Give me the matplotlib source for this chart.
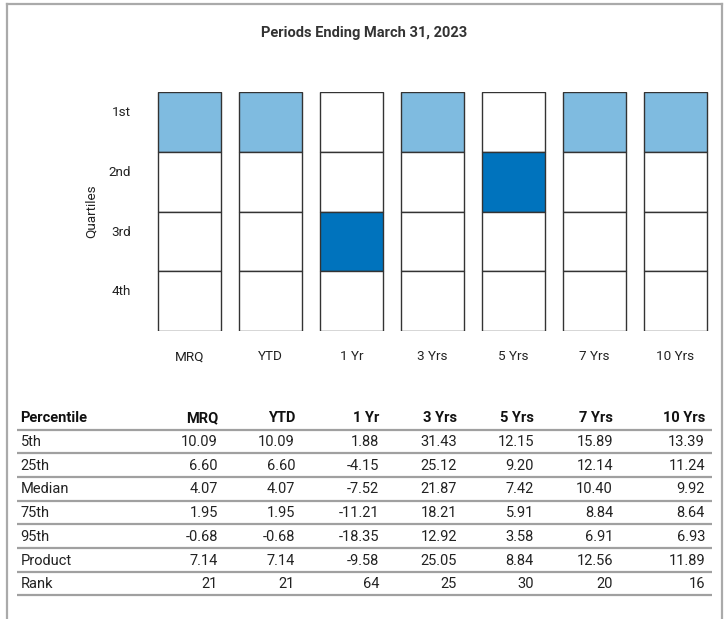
import matplotlib
matplotlib.use("Agg")
import matplotlib.pyplot as plt
from matplotlib.lines import Line2D

plt.rcParams['font.family'] = ['Roboto', 'DejaVu Sans']

# ---- data ----
title = "Periods Ending March 31, 2023"
periods = ["MRQ", "YTD", "1 Yr", "3 Yrs", "5 Yrs", "7 Yrs", "10 Yrs"]
quartile_labels = ["1st", "2nd", "3rd", "4th"]
product_quartile = [1, 1, 3, 1, 2, 1, 1]
row_labels = ["5th", "25th", "Median", "75th", "95th", "Product", "Rank"]
p5 = [10.09, 10.09, 1.88, 31.43, 12.15, 15.89, 13.39]
p25 = [6.60, 6.60, -4.15, 25.12, 9.20, 12.14, 11.24]
median = [4.07, 4.07, -7.52, 21.87, 7.42, 10.40, 9.92]
p75 = [1.95, 1.95, -11.21, 18.21, 5.91, 8.84, 8.64]
p95 = [-0.68, -0.68, -18.35, 12.92, 3.58, 6.91, 6.93]
product = [7.14, 7.14, -9.58, 25.05, 8.84, 12.56, 11.89]
rank = [21, 21, 64, 25, 30, 20, 16]

LIGHT = "#7FBBE0"
DARK = "#0073BD"
EDGE = "#333333"
TXT = "#222222"

W, H = 726, 619
fig = plt.figure(figsize=(W / 100, H / 100), dpi=100)

# outer frame (top, left, right)
frame_c = "#AAAAAA"
fig.add_artist(Line2D([7 / W, 7 / W], [0, 1 - 3.5 / H], transform=fig.transFigure, color=frame_c, lw=1.6))
fig.add_artist(Line2D([722 / W, 722 / W], [0, 1 - 3.5 / H], transform=fig.transFigure, color=frame_c, lw=1.6))
fig.add_artist(Line2D([7 / W, 722 / W], [1 - 3.5 / H, 1 - 3.5 / H], transform=fig.transFigure, color=frame_c, lw=1.6))

fig.text(364 / W, 1 - 32.5 / H, title, ha="center", va="center", fontsize=10.5, fontweight="bold", color="#333333")

# ---- quartile grid ----
ax = fig.add_axes([149 / W, 1 - 331 / H, 567 / W, 239 / H])
ax.set_xlim(-0.5, len(periods) - 0.5)
ax.set_ylim(4.5, 0.5)
bw = 63 / 81
for i, q_prod in enumerate(product_quartile):
    for q in range(1, 5):
        if q == q_prod:
            fc = LIGHT if q == 1 else DARK
        else:
            fc = "white"
        ax.bar(i, 1, bottom=q - 0.5, width=bw, color=fc, edgecolor=EDGE, linewidth=1.0)
for s in ax.spines.values():
    s.set_visible(False)
ax.set_xticks(range(len(periods)))
ax.set_xticklabels(periods, fontsize=9.7, color=TXT)
ax.tick_params(axis="x", length=0, pad=14)
ax.set_yticks([q - 0.18 for q in range(1, 5)])
ax.set_yticklabels(quartile_labels, fontsize=9.7, color=TXT)
ax.tick_params(axis="y", length=0, pad=13)
fig.text(91 / W, 1 - 211 / H, "Quartiles", rotation=90, ha="center", va="center", fontsize=9.7, color=TXT)

# ---- table ----
tax = fig.add_axes([0, 1 - 606.1 / H, 1, 201.45 / H])
tax.set_xlim(0, W)
tax.set_ylim(8, -0.5)
tax.axis("off")
col_right = [218, 295, 379, 457, 534, 613, 705]
rows = [p5, p25, median, p75, p95, product, rank]
fs = 10.5
dy = 0.08
tax.text(20.5, dy, "Percentile", ha="left", va="center", fontsize=fs, fontweight="bold", color="#111111")
for j, p in enumerate(periods):
    tax.text(col_right[j], dy, p, ha="right", va="center", fontsize=fs, fontweight="bold", color="#111111")
for r, (lab, vals) in enumerate(zip(row_labels, rows), start=1):
    tax.text(20.5, r + dy, lab, ha="left", va="center", fontsize=fs, color=TXT)
    for j, v in enumerate(vals):
        s = str(v) if lab == "Rank" else f"{v:.2f}"
        tax.text(col_right[j], r + dy, s, ha="right", va="center", fontsize=fs, color=TXT)
for r in range(len(rows) + 1):
    tax.plot([17, 712], [r + 0.55, r + 0.55], color="#A0A0A0", lw=1.6, solid_capstyle="butt")

fig.savefig("out.png", dpi=100)
